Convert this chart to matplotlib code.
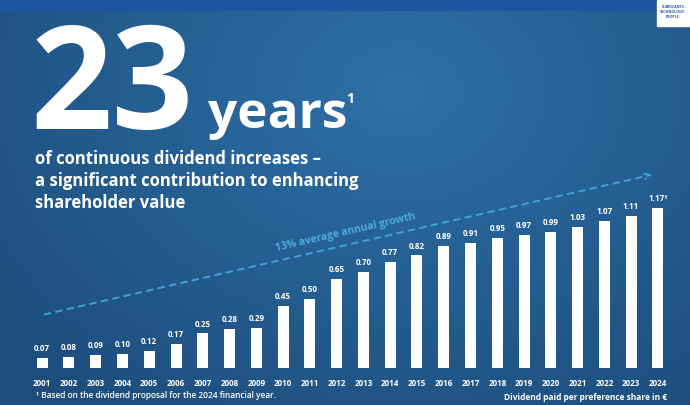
import numpy as np
import matplotlib
matplotlib.use("Agg")
import matplotlib.pyplot as plt
from matplotlib.patches import Rectangle

# Dividend per preference share in EUR
years = [str(y) for y in range(2001, 2025)]
dividends = [0.07, 0.08, 0.09, 0.10, 0.12, 0.17, 0.25, 0.28, 0.29, 0.45, 0.50, 0.65,
             0.70, 0.77, 0.82, 0.89, 0.91, 0.95, 0.97, 0.99, 1.03, 1.07, 1.11, 1.17]
value_labels = [f"{v:.2f}" for v in dividends]
value_labels[-1] = "1.17\u00b9"

plt.rcParams["font.family"] = ["Open Sans", "DejaVu Sans"]

W, H = 690, 405
fig = plt.figure(figsize=(6.9, 4.05), dpi=100)

# background in pixel coordinates
bg = fig.add_axes([0, 0, 1, 1])
bg.set_xlim(0, W)
bg.set_ylim(H, 0)
bg.axis("off")

yy, xx = np.mgrid[0:H, 0:W]
d = np.sqrt(((xx - 400) / 520.0) ** 2 + ((yy - 90) / 400.0) ** 2)
d = np.clip(d, 0, 1)
c_in = np.array([0x2e, 0x70, 0xa6]) / 255
c_out = np.array([0x1c, 0x4d, 0x7c]) / 255
img = c_in[None, None, :] * (1 - d[..., None]) + c_out[None, None, :] * d[..., None]
bg.imshow(img, extent=[0, W, H, 0], aspect="auto", zorder=0)

# top bar and logo box
bg.add_patch(Rectangle((0, 0), W, 10, color="#1d55a0", zorder=1))
bg.add_patch(Rectangle((657, 0), 33, 26, color="white", zorder=2))
bg.text(673, 12, "LUBRICANTS.\nTECHNOLOGY.\nPEOPLE.", color="#1d55a0", fontsize=2.6,
        fontweight="bold", ha="center", va="center", linespacing=1.2, zorder=3)

# headline
bg.text(31, 129, "23", color="white", fontsize=103, fontweight="bold",
        ha="left", va="baseline", zorder=3)
bg.text(208, 128, "years", color="white", fontsize=37, fontweight="bold",
        ha="left", va="baseline", zorder=3)
bg.text(346, 103, "1", color="white", fontsize=10, fontweight="bold",
        ha="left", va="baseline", zorder=3)
bg.text(35, 150, "of continuous dividend increases \u2013\n"
        "a significant contribution to enhancing\nshareholder value",
        color="white", fontsize=12, fontweight="bold", ha="left", va="top",
        linespacing=1.3, zorder=3)

# growth arrow
bg.annotate("", xy=(655, 174), xytext=(42, 315),
            arrowprops=dict(arrowstyle="->", color="#3fa2d8", lw=1.4,
                            linestyle=(0, (3, 3)), mutation_scale=10), zorder=3)
bg.text(346, 233, "13% average annual growth", color="#4eaae0", fontsize=7.5,
        fontweight="bold", ha="center", va="center", rotation=13.0,
        rotation_mode="anchor", zorder=3)

# footnotes
bg.text(36, 395, "\u00b9 Based on the dividend proposal for the 2024 financial year.",
        color="white", fontsize=6, fontweight="semibold", ha="left", va="center", zorder=3)
bg.text(667, 397, "Dividend paid per preference share in \u20ac",
        color="white", fontsize=6, fontweight="bold", ha="right", va="center", zorder=3)

# bar chart
x = np.arange(len(years))
ax = fig.add_axes([28.8 / W, 1 - 367.5 / H, 26.77 * 24 / W, 0.405])
ax.patch.set_alpha(0)
ax.bar(x, dividends, width=0.41, color="white", zorder=3)
for xi, v, lab in zip(x, dividends, value_labels):
    ax.text(xi, v + 0.035, lab, color="white", fontsize=5.8, fontweight="bold",
            ha="center", va="bottom")
ax.set_xlim(-0.5, len(years) - 0.5)
ax.set_ylim(0, 1.2)
ax.set_xticks(x)
ax.set_xticklabels(years, color="white", fontsize=5.8, fontweight="bold")
ax.tick_params(axis="x", length=0, pad=8)
ax.set_yticks([])
for s in ax.spines.values():
    s.set_visible(False)

fig.savefig("out.png", dpi=100)
